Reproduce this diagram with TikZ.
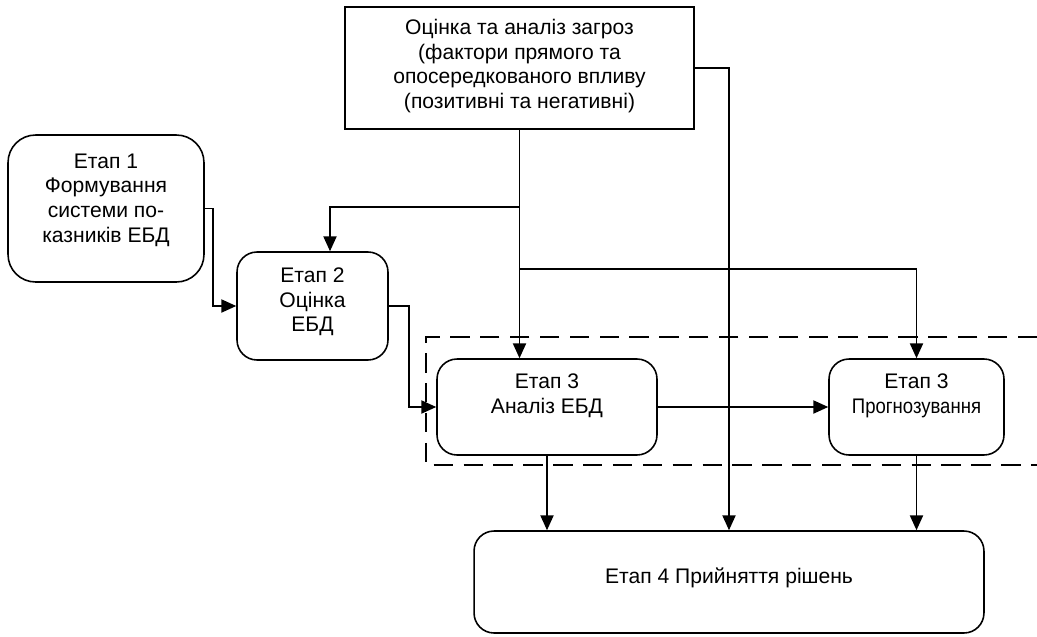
\documentclass[tikz,border=0pt]{standalone}
\usepackage{fontspec}
\setmainfont{Liberation Sans}
\usetikzlibrary{arrows.meta}

\tikzset{
    blok/.style={draw, line width=0.9pt, inner sep=0pt},
    etap/.style={blok, rounded corners=0.4cm},
    lin/.style={line width=0.9pt},
    arr/.style={lin, -{Triangle[length=8.5pt,width=7.5pt]}},
    txt/.style={font=\fontsize{12pt}{14pt}\selectfont, align=center, inner sep=0pt}
}

\begin{document}
\begin{tikzpicture}[x=0.02cm, y=-0.02cm]
        \useasboundingbox (0,0) rectangle (1037,636);
        % blocks
        \node [blok, minimum width=6.98cm, minimum height=2.44cm] (zag) at (519.5,68) {};
        \node [txt] (zagt) at (519.5,66) {Оцінка та аналіз загроз\\(фактори прямого та\\опосередкованого впливу\\(позитивні та негативні)};
        \node [etap, rounded corners=0.55cm, minimum width=3.92cm, minimum height=2.94cm] (e1) at (106,208.5) {};
        \node [txt] (e1t) at (106,200) {Етап 1\\Формування\\системи по-\\казників ЕБД};
        \node [etap, minimum width=3.02cm, minimum height=2.16cm] (e2) at (312.5,306) {};
        \node [txt] (e2t) at (312.5,302) {Етап 2\\Оцінка\\ЕБД};
        \node [etap, minimum width=4.4cm, minimum height=1.92cm] (e3a) at (547,407) {};
        \node [txt] (e3at) at (547,396) {Етап 3\\Аналіз ЕБД};
        \node [etap, minimum width=3.5cm, minimum height=1.92cm] (e3p) at (916.5,407) {};
        \node [txt] (e3pt) at (916.5,396) {Етап 3\\\scalebox{0.88}[1]{Прогнозування}};
        \node [etap, minimum width=10.2cm, minimum height=2.04cm] (e4) at (729,582) {};
        \node [txt] (e4t) at (729,578) {Етап 4 Прийняття рішень};
        % dashed frame
        \draw [lin, dash pattern=on 11pt off 6pt] (1037,337) -| (426,465) -- (1037,465);
        % connectors
        \path (zag.south) ++(0,77) coordinate (fb) ++(0,62) coordinate (br);
        \draw [arr] (zag.south) -- (zag.south |- e3a.north);
        \draw [arr] (br) -| (e3p.north);
        \draw [arr] (fb) -| ([xshift=0.35cm]e2.north);
        \draw [arr] (zag.east) -| (e4.north);
        \draw [arr] (e1.east) -- ++(8,0) |- (e2.west);
        \draw [arr] (e2.east) -- ++(20,0) |- (e3a.west);
        \draw [arr] (e3a.east) -- (e3p.west);
        \draw [arr] (e3a.south) -- (e3a.south |- e4.north);
        \draw [arr] (e3p.south) -- (e3p.south |- e4.north);
\end{tikzpicture}
\end{document}
